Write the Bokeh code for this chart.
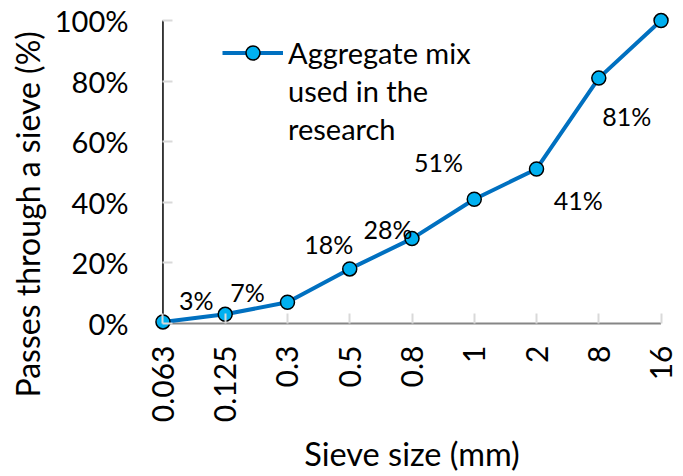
from math import pi
from bokeh.plotting import figure
from bokeh.models import (ColumnDataSource, FixedTicker, PrintfTickFormatter, Range1d,
                          Legend, LegendItem, Title)
from bokeh.embed import file_html
from bokeh.resources import INLINE
from bokeh.core.properties import value

# ---- data ----
sieve_sizes = ["0.063", "0.125", "0.3", "0.5", "0.8", "1", "2", "8", "16"]
passing = [0.5, 3, 7, 18, 28, 41, 51, 81, 100]
point_labels = ["", "3%", "7%", "18%", "28%", "41%", "51%", "81%", ""]
y_ticks = [0, 20, 40, 60, 80, 100]

# label nudges (screen px) as placed in the original chart
label_dx = [0, -29, -40, -21, -24, 104, -98, 28, 0]
label_dy = [0, -14, -10, -25, -10, 1, -7, 38, 0]

FONT = "Lato"
x_idx = list(range(len(sieve_sizes)))
x_last = x_idx[-1]
y_top = y_ticks[-1]
src = ColumnDataSource(dict(x=x_idx, y=passing, lab=point_labels, dx=label_dx, dy=label_dy))

p = figure(width=683, height=476, x_range=Range1d(-0.2, 8.2), y_range=Range1d(-3, 103),
           output_backend="svg", toolbar_location=None,
           min_border_left=150, min_border_right=10, min_border_top=11, min_border_bottom=144)
p.outline_line_color = None
p.xgrid.visible = False
p.ygrid.visible = False

# axis lines at the data origin (the frame is padded so that markers are not cut)
p.segment(x0=[0], y0=[0], x1=[x_last], y1=[0], line_color="#868686", line_width=2)
p.segment(x0=[0], y0=[0], x1=[0], y1=[y_top], line_color="black", line_width=1.5)

xa = p.xaxis[0]
xa.ticker = FixedTicker(ticks=x_idx)
xa.major_label_overrides = {i: s for i, s in enumerate(sieve_sizes)}
xa.major_label_orientation = pi / 2
xa.axis_line_color = None
xa.major_tick_in = 19
xa.major_tick_out = -9
xa.major_tick_line_color = "#d9d9d9"
xa.major_tick_line_width = 2
xa.minor_tick_line_color = None
xa.major_label_standoff = 13
xa.major_label_text_font = FONT
xa.major_label_text_font_size = "30px"
xa.major_label_text_color = "black"
xa.axis_label = "Sieve size (mm)"
xa.axis_label_standoff = 9
xa.axis_label_text_font = FONT
xa.axis_label_text_font_size = "32.5px"
xa.axis_label_text_font_style = "normal"
xa.axis_label_text_color = "black"

ya = p.yaxis[0]
ya.ticker = FixedTicker(ticks=y_ticks)
ya.formatter = PrintfTickFormatter(format="%d%%")
ya.axis_line_color = None
ya.major_tick_in = 22
ya.major_tick_out = -12
ya.major_tick_line_color = "#d9d9d9"
ya.major_tick_line_width = 2
ya.minor_tick_line_color = None
ya.major_label_standoff = 22
ya.major_label_text_font = FONT
ya.major_label_text_font_size = "29px"
ya.major_label_text_color = "black"

line_r = p.line("x", "y", source=src, line_color="#0070C0", line_width=4)
pts_r = p.scatter("x", "y", source=src, size=14, fill_color="#00B0F0",
                  line_color="black", line_width=1.5)
blank_r = p.line(x=[], y=[], line_alpha=0)

p.text("x", "y", text="lab", source=src, x_offset="dx", y_offset="dy",
       text_align="center", text_baseline="middle", text_font=value(FONT),
       text_font_size="25px", text_color="black")

legend = Legend(items=[LegendItem(label="Aggregate mix", renderers=[line_r, pts_r]),
                       LegendItem(label="used in the", renderers=[blank_r]),
                       LegendItem(label="research", renderers=[blank_r])],
                location=(72, 186), background_fill_alpha=0, border_line_color=None,
                glyph_width=61, glyph_height=35, label_height=35, label_standoff=5,
                padding=0, margin=0, spacing=3,
                label_text_font=FONT, label_text_font_size="29px", label_text_color="black")
p.add_layout(legend)

p.add_layout(Title(text="Passes through a sieve (%)", align="left", offset=-65,
                   text_font=FONT, text_font_size="32px", text_font_style="normal",
                   text_color="black", standoff=10), "left")

open("out.html", "w").write(file_html(p, INLINE))
